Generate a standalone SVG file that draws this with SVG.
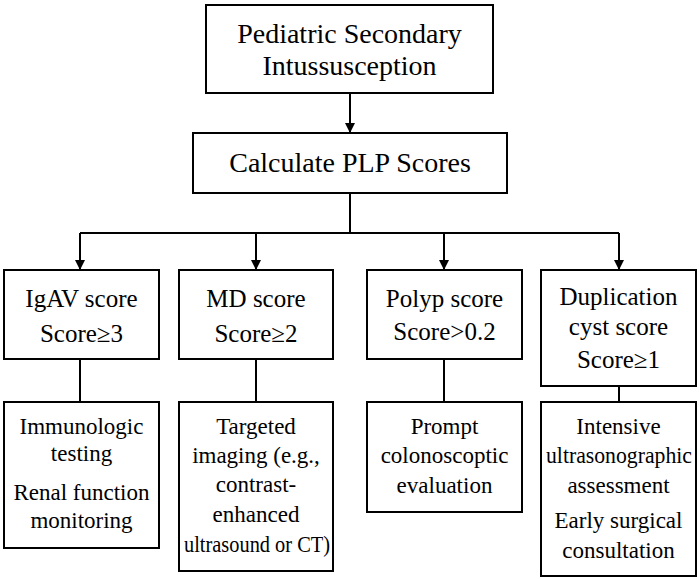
<svg xmlns="http://www.w3.org/2000/svg" width="700" height="580" viewBox="0 0 700 580">
<defs>
<marker id="ah" viewBox="0 0 10 10" refX="10" refY="5" markerWidth="10" markerHeight="10" markerUnits="userSpaceOnUse" orient="auto">
<path d="M0,0 L10,5 L0,10 Z" fill="#000"/>
</marker>
<style>
.box{fill:#fff;stroke:#000;stroke-width:2}
.ln{fill:none;stroke:#000;stroke-width:2}
.t1{font-size:28px}
.t2{font-size:25px}
.t3{font-size:23px}
</style>
</defs>
<rect width="700" height="580" fill="#fff"/>
<g id="connectors">
<line class="ln" x1="350" y1="93" x2="350" y2="133" marker-end="url(#ah)"/>
<polyline class="ln" points="350,193 350,233"/>
<polyline class="ln" points="80,233 619,233"/>
<line class="ln" x1="80" y1="233" x2="80" y2="270" marker-end="url(#ah)"/>
<line class="ln" x1="256" y1="233" x2="256" y2="270" marker-end="url(#ah)"/>
<line class="ln" x1="444" y1="233" x2="444" y2="270" marker-end="url(#ah)"/>
<line class="ln" x1="619" y1="233" x2="619" y2="270" marker-end="url(#ah)"/>
<line class="ln" x1="80" y1="359" x2="80" y2="402"/>
<line class="ln" x1="256" y1="359" x2="256" y2="402"/>
<line class="ln" x1="444" y1="359" x2="444" y2="402"/>
<line class="ln" x1="619" y1="386" x2="619" y2="402"/>
</g>
<g font-family="Liberation Serif, Times New Roman, serif" fill="#000" text-anchor="middle">
<g id="n-start">
<rect class="box" x="206" y="5" width="287" height="88"/>
<text class="t1" x="349.5" y="43">Pediatric Secondary</text>
<text class="t1" x="349.5" y="75">Intussusception</text>
</g>
<g id="n-calc">
<rect class="box" x="193" y="133" width="314" height="60"/>
<text class="t1" x="350" y="172">Calculate PLP Scores</text>
</g>
<g id="n-igav">
<rect class="box" x="4" y="270" width="155" height="89"/>
<text class="t2" x="81.5" y="307">IgAV score</text>
<text class="t2" x="81.5" y="342">Score≥3</text>
</g>
<g id="n-md">
<rect class="box" x="179" y="270" width="154" height="89"/>
<text class="t2" x="256" y="307">MD score</text>
<text class="t2" x="256" y="342">Score≥2</text>
</g>
<g id="n-polyp">
<rect class="box" x="367" y="270" width="155" height="89"/>
<text class="t2" x="444.5" y="307">Polyp score</text>
<text class="t2" x="444.5" y="340">Score&gt;0.2</text>
</g>
<g id="n-dup">
<rect class="box" x="541" y="270" width="155" height="116"/>
<text class="t2" x="618.5" y="305">Duplication</text>
<text class="t2" x="618.5" y="335">cyst score</text>
<text class="t2" x="618.5" y="368">Score≥1</text>
</g>
<g id="n-igav-act">
<rect class="box" x="4" y="402" width="155" height="146"/>
<text class="t3" x="81.5" y="434">Immunologic</text>
<text class="t3" x="81.5" y="461">testing</text>
<text class="t3" x="81.5" y="500">Renal function</text>
<text class="t3" x="81.5" y="528">monitoring</text>
</g>
<g id="n-md-act">
<rect class="box" x="179" y="402" width="154" height="169"/>
<text class="t3" x="256" y="434">Targeted</text>
<text class="t3" x="256" y="463">imaging (e.g.,</text>
<text class="t3" x="256" y="492">contrast-</text>
<text class="t3" x="256" y="522">enhanced</text>
<text class="t3" x="257" y="552" textLength="146" lengthAdjust="spacingAndGlyphs">ultrasound or CT)</text>
</g>
<g id="n-polyp-act">
<rect class="box" x="367" y="402" width="155" height="110"/>
<text class="t3" x="444.5" y="434">Prompt</text>
<text class="t3" x="444.5" y="463">colonoscoptic</text>
<text class="t3" x="444.5" y="493">evaluation</text>
</g>
<g id="n-dup-act">
<rect class="box" x="541" y="402" width="155" height="174"/>
<text class="t3" x="618.5" y="434">Intensive</text>
<text class="t3" x="619" y="463" textLength="146" lengthAdjust="spacingAndGlyphs">ultrasonographic</text>
<text class="t3" x="618.5" y="493">assessment</text>
<text class="t3" x="618.5" y="528">Early surgical</text>
<text class="t3" x="618.5" y="558">consultation</text>
</g>
</g>
</svg>
